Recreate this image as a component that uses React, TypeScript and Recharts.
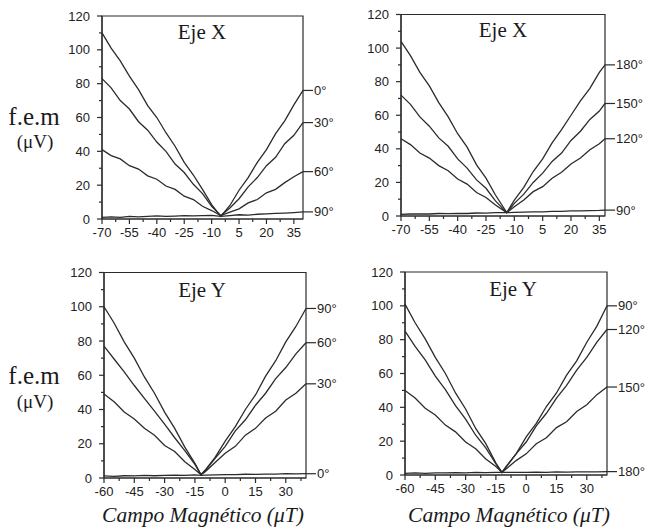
import React from 'react';
import { LineChart, Line, XAxis, YAxis, ReferenceArea } from 'recharts';

const W = 649;
const H = 529;
const INK = '#2b2b2b';
const SANS = "Arial, 'Liberation Sans', sans-serif";
const SERIF = "'Times New Roman', 'Liberation Serif', serif";

// ---------- Data ----------
// Top-left: Eje X (angles 0°,30°,60°,90°)
const xA = [-70, -65, -60, -55, -50, -45, -40, -35, -30, -25, -20, -15, -10, -5, 0, 5, 10, 15, 20, 25, 30, 35, 40];
const p1_0 = [110, 101, 93.5, 84.5, 76.5, 67, 60, 51, 43, 33.5, 26, 17.5, 8.5, 1.5, 8, 17, 24.5, 33.5, 41, 50.5, 58, 67.5, 76];
const p1_30 = [83, 77.5, 70, 65, 57.5, 52.5, 45.5, 40, 32.5, 27.5, 20.5, 15, 7.5, 2, 6.5, 12, 19, 24.5, 31.5, 36.5, 44.5, 49.5, 57];
const p1_60 = [41, 37.5, 35.5, 31.5, 29.5, 25.5, 23.5, 19.5, 17.5, 13.5, 11.5, 7.5, 5, 2, 4, 6, 9.5, 11.5, 15.5, 17.5, 21.5, 25, 28];
const p1_90 = [1, 1.2, 1, 1.5, 1.3, 1.5, 1.8, 1.5, 1.7, 2, 1.8, 2, 2.2, 1.5, 2, 2.5, 2.3, 2.8, 3, 3.3, 3.5, 3.8, 4.2];
const p1Labels = ['0°', '30°', '60°', '90°'];

// Top-right: Eje X (angles 180°,150°,120°,90°)
const xB = [-70, -65, -60, -55, -50, -45, -40, -35, -30, -25, -20, -14, -10, -5, 0, 5, 10, 15, 20, 25, 30, 35, 38];
const p2_180 = [104, 95.5, 85.5, 77.5, 67.5, 59, 49, 41, 30.5, 22.5, 12.5, 2, 9.5, 17, 26.5, 34, 43.5, 51.5, 60, 68.5, 76, 85.5, 90];
const p2_150 = [72, 66.5, 59, 53.5, 46.5, 41.5, 34, 28.5, 21.5, 16.5, 9, 2, 7.5, 13, 20, 25.5, 32.5, 37.5, 45, 50.5, 57.5, 62.5, 67];
const p2_120 = [46, 42.5, 37.5, 34.5, 30, 27, 22, 19, 14, 11, 6.5, 2, 5.5, 9.5, 14.5, 17.5, 22.5, 26, 31, 34.5, 39.5, 43, 46];
const p2_90 = [1, 1.2, 1.3, 1.2, 1.5, 1.4, 1.6, 1.5, 1.8, 1.7, 2, 2, 2.2, 2.3, 2.5, 2.5, 2.7, 2.8, 3, 3, 3.2, 3.3, 3.5];
const p2Labels = ['180°', '150°', '120°', '90°'];

// Bottom-left: Eje Y (angles 90°,60°,30°,0°)
const xC = [-60, -55, -50, -45, -40, -35, -30, -25, -20, -15, -12, -10, -5, 0, 5, 10, 15, 20, 25, 30, 35, 40];
const p3_90 = [100, 90.5, 79.5, 70, 59, 49.5, 38.5, 29, 18, 8.5, 2, 4.5, 12, 21.5, 30, 40, 48.5, 59.5, 68.5, 79.5, 88.5, 99];
const p3_60 = [77, 69.5, 62, 54, 46.5, 39, 31.5, 23.5, 16, 8, 2, 4, 11.5, 18.5, 27.5, 34, 42.5, 49.5, 58, 64.5, 72.5, 79];
const p3_30 = [49, 44.5, 38.5, 34.5, 29, 25, 19, 15.5, 9.5, 5, 2, 3.5, 9, 14.5, 18.5, 25, 29, 35, 39, 45.5, 49.5, 55];
const p3_0 = [1.2, 1, 1.3, 1.2, 1.5, 1.3, 1.5, 1.6, 1.5, 1.8, 1.5, 1.7, 1.8, 2, 2, 2.2, 2.1, 2.3, 2.3, 2.5, 2.4, 2.5];
const p3Labels = ['90°', '60°', '30°', '0°'];

// Bottom-right: Eje Y (angles 90°,120°,150°,180°)
const xD = [-60, -55, -50, -45, -40, -35, -30, -25, -20, -15, -12, -10, -5, 0, 5, 10, 15, 20, 25, 30, 35, 40];
const p4_90 = [101, 90, 80.5, 69.5, 60, 48.5, 39, 27.5, 18.5, 7, 1.5, 5, 12.5, 22.5, 30.5, 40.5, 48.5, 59, 67.5, 78.5, 88, 100];
const p4_120 = [85, 76, 68, 58.5, 50.5, 41, 33, 23.5, 16, 6.5, 1.5, 4.5, 12.5, 19.5, 29, 36.5, 45.5, 53, 62, 69.5, 78.5, 86];
const p4_150 = [50, 45.5, 39.5, 35.5, 29.5, 25.5, 19.5, 15.5, 9.5, 5, 1.5, 3.5, 8.5, 12.5, 18.5, 22, 28, 31.5, 37.5, 41.5, 47.5, 52];
const p4_180 = [1, 1.2, 1, 1.3, 1.2, 1.4, 1.3, 1.5, 1.4, 1.5, 1.5, 1.5, 1.6, 1.5, 1.7, 1.6, 1.8, 1.7, 1.8, 1.9, 1.9, 2];
const p4Labels = ['90°', '120°', '150°', '180°'];

// Ticks
const xTicksTop = [-70, -62.5, -55, -47.5, -40, -32.5, -25, -17.5, -10, -2.5, 5, 12.5, 20, 27.5, 35];
const xMajorTop = [-70, -55, -40, -25, -10, 5, 20, 35];
const xTicksBottom = [-60, -52.5, -45, -37.5, -30, -22.5, -15, -7.5, 0, 7.5, 15, 22.5, 30, 37.5];
const xMajorBottom = [-60, -45, -30, -15, 0, 15, 30];
const yTicks = [0, 10, 20, 30, 40, 50, 60, 70, 80, 90, 100, 110, 120];
const yMajor = [0, 20, 40, 60, 80, 100, 120];

// ---------- Components ----------
const YTick = (props: any) => {
  const { x, y, payload } = props;
  const v = payload.value;
  const major = yMajor.includes(v);
  const ax = x + 12;
  return (
    <g>
      <line x1={ax - (major ? 5 : 3)} x2={ax} y1={y} y2={y} stroke={INK} strokeWidth={1.2} />
      {major && (
        <text x={x} y={y} textAnchor="end" dominantBaseline="central" fontFamily={SANS} fontSize={13} fill="#222">
          {v}
        </text>
      )}
    </g>
  );
};

const makeXTick = (majors: number[]) => (props: any) => {
  const { x, y, payload } = props;
  const v = payload.value;
  const major = majors.includes(v);
  const ay = y - 8;
  return (
    <g>
      <line x1={x} x2={x} y1={ay} y2={ay + (major ? 5 : 3)} stroke={INK} strokeWidth={1.2} />
      {major && (
        <text x={x} y={ay + 13} textAnchor="middle" dominantBaseline="central" fontFamily={SANS} fontSize={13} fill="#222">
          {v}
        </text>
      )}
    </g>
  );
};

const makeEndLabel = (text: string, lastIdx: number) => (p: any) => {
  if (p.index !== lastIdx) return null;
  return (
    <g>
      <line x1={p.x} x2={p.x + 10} y1={p.y} y2={p.y} stroke={INK} strokeWidth={1.2} />
      <text x={p.x + 11} y={p.y} dominantBaseline="central" fontFamily={SANS} fontSize={13} fill="#222">
        {text}
      </text>
    </g>
  );
};

type PanelProps = {
  xs: number[];
  series: number[][];
  labels: string[];
  domain: [number, number];
  ticks: number[];
  majors: number[];
  box: { l: number; r: number; t: number; b: number };
};

const Panel = ({ xs, series, labels, domain, ticks, majors, box }: PanelProps) => {
  const data = xs.map((x, i) => {
    const row: any = { x };
    series.forEach((s, k) => {
      row['s' + k] = s[i];
    });
    return row;
  });
  const yAxisW = 50;
  const xAxisH = 30;
  const margin = { top: box.t, left: box.l - yAxisW, right: W - box.r, bottom: H - box.b - xAxisH };
  const XT = makeXTick(majors);
  return (
    <div style={{ position: 'absolute', left: 0, top: 0, width: W, height: H }}>
      <LineChart width={W} height={H} data={data} margin={margin}>
        <XAxis
          dataKey="x"
          type="number"
          domain={domain}
          ticks={ticks}
          interval={0}
          tickSize={5}
          tickMargin={3}
          tickLine={false}
          tick={<XT />}
          height={xAxisH}
          axisLine={{ stroke: INK, strokeWidth: 1.2 }}
        />
        <YAxis
          type="number"
          domain={[0, 120]}
          ticks={yTicks}
          interval={0}
          tickSize={5}
          tickMargin={7}
          tickLine={false}
          tick={<YTick />}
          width={yAxisW}
          axisLine={{ stroke: INK, strokeWidth: 1.2 }}
        />
        <ReferenceArea x1={domain[0]} x2={domain[1]} y1={0} y2={120} fill="none" stroke={INK} strokeWidth={1.2} ifOverflow="visible" />
        {series.map((_, k) => (
          <Line
            key={k}
            dataKey={'s' + k}
            type="linear"
            stroke={INK}
            strokeWidth={1.3}
            dot={false}
            isAnimationActive={false}
            label={makeEndLabel(labels[k], xs.length - 1)}
          />
        ))}
      </LineChart>
    </div>
  );
};

export default function App() {
  return (
    <div style={{ position: 'absolute', left: 0, top: 0, width: W, height: H, background: '#fff' }}>
      <Panel
        xs={xA}
        series={[p1_0, p1_30, p1_60, p1_90]}
        labels={p1Labels}
        domain={[-70, 40]}
        ticks={xTicksTop}
        majors={xMajorTop}
        box={{ l: 102, r: 303, t: 16, b: 219 }}
      />
      <Panel
        xs={xB}
        series={[p2_180, p2_150, p2_120, p2_90]}
        labels={p2Labels}
        domain={[-70, 38]}
        ticks={xTicksTop}
        majors={xMajorTop}
        box={{ l: 401, r: 605, t: 14.5, b: 216 }}
      />
      <Panel
        xs={xC}
        series={[p3_90, p3_60, p3_30, p3_0]}
        labels={p3Labels}
        domain={[-60, 40]}
        ticks={xTicksBottom}
        majors={xMajorBottom}
        box={{ l: 104, r: 306, t: 272.5, b: 478 }}
      />
      <Panel
        xs={xD}
        series={[p4_90, p4_120, p4_150, p4_180]}
        labels={p4Labels}
        domain={[-60, 40]}
        ticks={xTicksBottom}
        majors={xMajorBottom}
        box={{ l: 405, r: 607, t: 272, b: 475 }}
      />
      <svg width={W} height={H} style={{ position: 'absolute', left: 0, top: 0, pointerEvents: 'none' }}>
        <g fontFamily={SERIF} fill="#1a1a1a">
          <text x={202} y={32} textAnchor="middle" dominantBaseline="central" fontSize={21}>Eje X</text>
          <text x={503} y={30} textAnchor="middle" dominantBaseline="central" fontSize={21}>Eje X</text>
          <text x={202} y={290} textAnchor="middle" dominantBaseline="central" fontSize={21}>Eje Y</text>
          <text x={513} y={289} textAnchor="middle" dominantBaseline="central" fontSize={21}>Eje Y</text>
          <text x={34} y={116} textAnchor="middle" dominantBaseline="central" fontSize={25}>f.e.m</text>
          <text x={35} y={141} textAnchor="middle" dominantBaseline="central" fontSize={19}>(μV)</text>
          <text x={34} y={375} textAnchor="middle" dominantBaseline="central" fontSize={25}>f.e.m</text>
          <text x={35} y={401} textAnchor="middle" dominantBaseline="central" fontSize={19}>(μV)</text>
          <text x={203} y={515} textAnchor="middle" dominantBaseline="central" fontSize={21.5} fontStyle="italic">Campo Magnético (μT)</text>
          <text x={509} y={515} textAnchor="middle" dominantBaseline="central" fontSize={21.5} fontStyle="italic">Campo Magnético (μT)</text>
        </g>
      </svg>
    </div>
  );
}
